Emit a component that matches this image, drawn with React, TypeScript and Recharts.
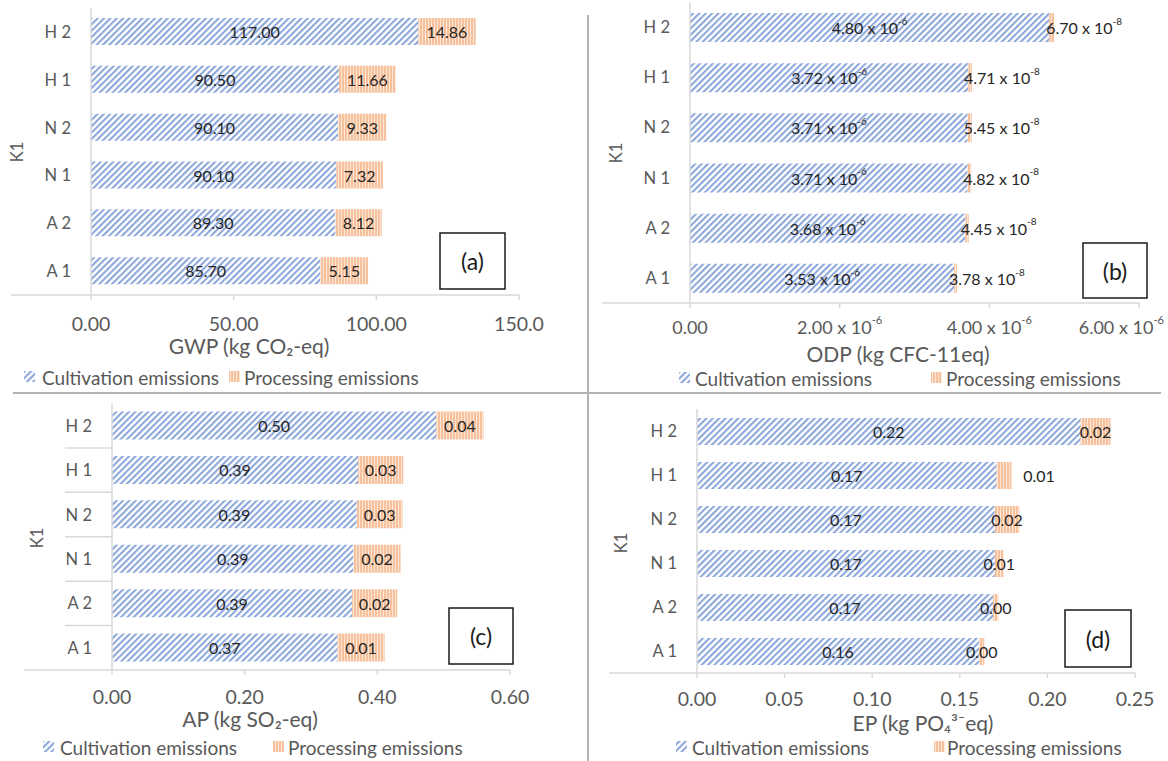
import React from 'react';
import { BarChart, Bar, XAxis, YAxis, LabelList } from 'recharts';

// ---------- data ----------
const categories = ['H 2', 'H 1', 'N 2', 'N 1', 'A 2', 'A 1'];

// (a) GWP
const gwpCultivation = [114.7, 86.9, 86.6, 86.0, 85.6, 80.4];
const gwpProcessing = [20.1, 19.9, 16.9, 16.3, 16.3, 16.7];
const gwpCultivationLabels = ['117.00', '90.50', '90.10', '90.10', '89.30', '85.70'];
const gwpProcessingLabels = ['14.86', '11.66', '9.33', '7.32', '8.12', '5.15'];
const gwpTicks = [0, 50, 100, 150];
const gwpTickLabels = ['0.00', '50.00', '100.00', '150.0'];

// (b) ODP
const odpCultivation = [4.8e-6, 3.72e-6, 3.71e-6, 3.71e-6, 3.68e-6, 3.53e-6];
const odpProcessing = [6.7e-8, 4.71e-8, 5.45e-8, 4.82e-8, 4.45e-8, 3.78e-8];
const odpTicks = [0, 2e-6, 4e-6, 6e-6];

// (c) AP
const apCultivation = [0.489, 0.371, 0.369, 0.364, 0.362, 0.34];
const apProcessing = [0.071, 0.068, 0.069, 0.071, 0.068, 0.071];
const apCultivationLabels = ['0.50', '0.39', '0.39', '0.39', '0.39', '0.37'];
const apProcessingLabels = ['0.04', '0.03', '0.03', '0.02', '0.02', '0.01'];
const apTicks = [0, 0.2, 0.4, 0.6];
const apTickLabels = ['0.00', '0.20', '0.40', '0.60'];

// (d) EP
const epCultivation = [0.219, 0.171, 0.17, 0.17, 0.169, 0.161];
const epProcessing = [0.017, 0.0085, 0.014, 0.005, 0.003, 0.003];
const epCultivationLabels = ['0.22', '0.17', '0.17', '0.17', '0.17', '0.16'];
const epProcessingLabels = ['0.02', '0.01', '0.02', '0.01', '0.00', '0.00'];
const epTicks = [0, 0.05, 0.1, 0.15, 0.2, 0.25];
const epTickLabels = ['0.00', '0.05', '0.10', '0.15', '0.20', '0.25'];

const seriesNames = ['Cultivation emissions', 'Processing emissions'];
const categoryAxisTitle = 'K1';

// ---------- styles ----------
const FONT = 'Lato, "Open Sans", "DejaVu Sans", sans-serif';
const GRAY = '#595959';
const DARK = '#262626';
const AXIS = '#d9d9d9';
const DIVIDER = '#b3b3b3';

type Row = { name: string; cult: number; proc: number };
const buildRows = (cult: number[], proc: number[]): Row[] =>
  categories.map((name, i) => ({ name, cult: cult[i], proc: proc[i] }));

type Geo = {
  left: number; top: number; w: number; h: number;
  plotL: number; plotR: number; plotT: number; plotB: number;
  axisExt: number; barSize: number; tickDy: number;
};

const geoA: Geo = { left: 0, top: 0, w: 584, h: 393, plotL: 91, plotR: 519, plotT: 8, plotB: 295, axisExt: 11, barSize: 27, tickDy: 28 };
const geoB: Geo = { left: 584, top: 0, w: 584, h: 393, plotL: 690, plotR: 1139, plotT: 2, plotB: 303, axisExt: 602, barSize: 29, tickDy: 24 };
const geoC: Geo = { left: 0, top: 393, w: 584, h: 368, plotL: 112, plotR: 510, plotT: 403.5, plotB: 670, axisExt: 24, barSize: 28, tickDy: 26 };
const geoD: Geo = { left: 584, top: 393, w: 584, h: 368, plotL: 697, plotR: 1135, plotT: 409, plotB: 673, axisExt: 609, barSize: 27, tickDy: 25 };

const sciParts = (v: number): [string, string | null] => {
  if (v === 0) return ['0.00', null];
  const e = Math.floor(Math.log10(v) + 1e-9);
  const m = v / Math.pow(10, e);
  return [m.toFixed(2) + ' x 10', String(e)];
};

const SciText = ({ x, y, v, anchor, size, fill }: { x: number; y: number; v: number; anchor: string; size: number; fill: string }) => {
  const [m, e] = sciParts(v);
  return (
    <text x={x} y={y} textAnchor={anchor as any} dominantBaseline="central" fontFamily={FONT} fontSize={size} fill={fill}>
      {m}
      {e !== null ? (
        <tspan dy={-size * 0.42} fontSize={size * 0.62}>{e}</tspan>
      ) : null}
    </text>
  );
};

const labelBox = (p: any) => {
  const vb = p.viewBox || {};
  const x = p.x ?? vb.x;
  const y = p.y ?? vb.y;
  const width = p.width ?? vb.width;
  const height = p.height ?? vb.height;
  return { x: Number(x), y: Number(y), width: Number(width), height: Number(height) };
};

type PanelProps = {
  geo: Geo;
  rows: Row[];
  domain: [number, number];
  ticks: number[];
  renderTick: (v: number, i: number, x: number, y: number) => React.ReactNode;
  renderCult: (i: number, cx: number, cy: number) => React.ReactNode;
  renderProc: (i: number, x: number, w: number, cy: number) => React.ReactNode;
  separators?: boolean;
};

function Panel({ geo: g, rows, domain, ticks, renderTick, renderCult, renderProc, separators }: PanelProps) {
  const margin = { top: g.plotT - g.top, right: g.left + g.w - g.plotR, left: 0, bottom: g.top + g.h - g.plotB - 30 };
  const band = (g.plotB - g.plotT) / categories.length;
  const tickY = g.plotB + g.tickDy - g.top;
  return (
    <div style={{ position: 'absolute', left: g.left, top: g.top }}>
      <BarChart width={g.w} height={g.h} data={rows} layout="vertical" margin={margin} barCategoryGap={0}>
        <XAxis
          type="number"
          domain={domain}
          ticks={ticks}
          height={30}
          interval={0}
          allowDataOverflow
          axisLine={{ stroke: AXIS, strokeWidth: 1.5 }}
          tickLine={{ stroke: AXIS, strokeWidth: 1.5 }}
          tickSize={5}
          tickMargin={0}
          tick={(p: any) => <g>{renderTick(p.payload.value, p.index, p.x, tickY)}</g>}
        />
        <YAxis
          type="category"
          dataKey="name"
          width={g.plotL - g.left}
          interval={0}
          axisLine={{ stroke: AXIS, strokeWidth: 1.5 }}
          tickLine={false}
          tickSize={0}
          tickMargin={0}
          tick={(p: any) => (
            <g>
              <text x={g.plotL - g.left - 20} y={p.y} textAnchor="end" dominantBaseline="central" fontFamily={FONT} fontSize={16.5} fill={GRAY}>
                {p.payload.value}
              </text>
              {separators && p.index < categories.length - 1 ? (
                <line x1={g.plotL - g.left - 47} x2={g.plotL - g.left} y1={p.y + band / 2} y2={p.y + band / 2} stroke={AXIS} strokeWidth={1.5} />
              ) : null}
            </g>
          )}
        />
        <Bar dataKey="cult" stackId="s" fill="url(#hatchBlue)" barSize={g.barSize} isAnimationActive={false}>
          <LabelList
            dataKey="cult"
            content={(p: any) => {
              const b = labelBox(p);
              return <g>{renderCult(p.index, b.x + b.width / 2, b.y + b.height / 2)}</g>;
            }}
          />
        </Bar>
        <Bar dataKey="proc" stackId="s" fill="url(#hatchOrange)" barSize={g.barSize} isAnimationActive={false}>
          <LabelList
            dataKey="proc"
            content={(p: any) => {
              const b = labelBox(p);
              return <g>{renderProc(p.index, b.x, b.width, b.y + b.height / 2)}</g>;
            }}
          />
        </Bar>
      </BarChart>
    </div>
  );
}

const TICK_FONT = 19.5;

const plainTick = (labels: string[]) => (v: number, i: number, x: number, y: number) => (
  <text x={x} y={y} textAnchor="middle" dominantBaseline="central" fontFamily={FONT} fontSize={TICK_FONT} fill={GRAY}>
    {labels[i]}
  </text>
);

const centerText = (txt: string, x: number, y: number) => (
  <text x={x} y={y} textAnchor="middle" dominantBaseline="central" fontFamily={FONT} fontSize={16} fill={DARK}>
    {txt}
  </text>
);

const epLabelShift = [0, 35, 0, 0, 0, 0];
const odpLastTickInset = 25;

function LegendRow({ y, x1, t1, x2, t2 }: { y: number; x1: number; t1: number; x2: number; t2: number }) {
  return (
    <g>
      <rect x={x1} y={y - 6} width={11} height={11} fill="url(#hatchBlue)" />
      <text x={t1} y={y} dominantBaseline="central" fontFamily={FONT} fontSize={19} fill={GRAY}>{seriesNames[0]}</text>
      <rect x={x2} y={y - 6} width={11} height={11} fill="url(#hatchOrange)" />
      <text x={t2} y={y} dominantBaseline="central" fontFamily={FONT} fontSize={19} fill={GRAY}>{seriesNames[1]}</text>
    </g>
  );
}

function PanelTag({ x, y, w, h, txt }: { x: number; y: number; w: number; h: number; txt: string }) {
  return (
    <g>
      <rect x={x} y={y} width={w} height={h} fill="#fff" stroke="#1a1a1a" strokeWidth={1.5} />
      <text x={x + w / 2} y={y + h / 2} textAnchor="middle" dominantBaseline="central" fontFamily={FONT} fontSize={23} fill="#1a1a1a">{txt}</text>
    </g>
  );
}

function AxisText({ x, y, txt, rotate }: { x: number; y: number; txt: string; rotate?: boolean }) {
  return (
    <text x={x} y={y} textAnchor="middle" dominantBaseline="central" fontFamily={FONT} fontSize={rotate ? 16.5 : 21} fill={GRAY}
      transform={rotate ? `rotate(-90 ${x} ${y})` : undefined}>
      {txt}
    </text>
  );
}

export default function App() {
  const geos = [geoA, geoB, geoC, geoD];
  return (
    <div style={{ position: 'absolute', left: 0, top: 0, width: 1168, height: 761, background: '#fff', overflow: 'hidden', fontFamily: FONT }}>
      <svg width={0} height={0} style={{ position: 'absolute' }}>
        <defs>
          <pattern id="hatchBlue" patternUnits="userSpaceOnUse" width={4.5} height={4.5} patternTransform="rotate(45)">
            <rect width={4.5} height={4.5} fill="#ffffff" />
            <line x1={1} y1={0} x2={1} y2={4.5} stroke="#8aa6da" strokeWidth={2.1} />
          </pattern>
          <pattern id="hatchOrange" patternUnits="userSpaceOnUse" width={3} height={3}>
            <rect width={3} height={3} fill="#fce6d6" />
            <line x1={1} y1={0} x2={1} y2={3} stroke="#f4b183" strokeWidth={1.4} />
          </pattern>
        </defs>
      </svg>

      <Panel
        geo={geoA}
        rows={buildRows(gwpCultivation, gwpProcessing)}
        domain={[0, 150]}
        ticks={gwpTicks}
        renderTick={plainTick(gwpTickLabels)}
        renderCult={(i, cx, cy) => centerText(gwpCultivationLabels[i], cx, cy)}
        renderProc={(i, x, w, cy) => centerText(gwpProcessingLabels[i], x + w / 2, cy)}
      />
      <Panel
        geo={geoB}
        rows={buildRows(odpCultivation, odpProcessing)}
        domain={[0, 6e-6]}
        ticks={odpTicks}
        renderTick={(v, i, x, y) =>
          i === odpTicks.length - 1 ? (
            <SciText x={x + odpLastTickInset} y={y} v={v} anchor="end" size={18} fill={GRAY} />
          ) : (
            <SciText x={x} y={y} v={v} anchor="middle" size={18} fill={GRAY} />
          )
        }
        renderCult={(i, cx, cy) => <SciText x={cx} y={cy} v={odpCultivation[i]} anchor="middle" size={16} fill={DARK} />}
        renderProc={(i, x, w, cy) => <SciText x={x + w - 8} y={cy} v={odpProcessing[i]} anchor="start" size={16} fill={DARK} />}
      />
      <Panel
        geo={geoC}
        rows={buildRows(apCultivation, apProcessing)}
        domain={[0, 0.6]}
        ticks={apTicks}
        separators
        renderTick={plainTick(apTickLabels)}
        renderCult={(i, cx, cy) => centerText(apCultivationLabels[i], cx, cy)}
        renderProc={(i, x, w, cy) => centerText(apProcessingLabels[i], x + w / 2, cy)}
      />
      <Panel
        geo={geoD}
        rows={buildRows(epCultivation, epProcessing)}
        domain={[0, 0.25]}
        ticks={epTicks}
        renderTick={plainTick(epTickLabels)}
        renderCult={(i, cx, cy) => centerText(epCultivationLabels[i], cx, cy)}
        renderProc={(i, x, w, cy) => centerText(epProcessingLabels[i], x + w / 2 + epLabelShift[i], cy)}
      />

      <svg width={1168} height={761} style={{ position: 'absolute', left: 0, top: 0, pointerEvents: 'none' }}>
        {/* panel dividers */}
        <line x1={588} y1={15} x2={588} y2={761} stroke={DIVIDER} strokeWidth={2} />
        <line x1={13} y1={393} x2={1161} y2={393} stroke={DIVIDER} strokeWidth={2} />
        {/* axis line extensions into the category label area */}
        {geos.map((g, k) => (
          <line key={k} x1={g.axisExt} y1={g.plotB} x2={g.plotL} y2={g.plotB} stroke={AXIS} strokeWidth={1.5} />
        ))}
        {/* category axis titles */}
        <AxisText x={17} y={152} txt={categoryAxisTitle} rotate />
        <AxisText x={616} y={153} txt={categoryAxisTitle} rotate />
        <AxisText x={37} y={538} txt={categoryAxisTitle} rotate />
        <AxisText x={621} y={543} txt={categoryAxisTitle} rotate />
        {/* value axis titles */}
        <AxisText x={249} y={345} txt="GWP (kg CO₂-eq)" />
        <AxisText x={898} y={353} txt="ODP (kg CFC-11eq)" />
        <AxisText x={250} y={718} txt="AP (kg SO₂-eq)" />
        <AxisText x={923} y={722} txt="EP (kg PO₄³⁻eq)" />
        {/* legends */}
        <LegendRow y={377} x1={24} t1={42} x2={229} t2={244} />
        <LegendRow y={378} x1={679} t1={695} x2={931} t2={946} />
        <LegendRow y={747} x1={43} t1={60} x2={273} t2={288} />
        <LegendRow y={747} x1={676} t1={692} x2={934} t2={947} />
        {/* panel tags */}
        <PanelTag x={440} y={233} w={65} h={56} txt="(a)" />
        <PanelTag x={1083} y={243} w={64} h={55} txt="(b)" />
        <PanelTag x={449} y={608} w={64} h={56} txt="(c)" />
        <PanelTag x={1065} y={610} w={66} h={57} txt="(d)" />
      </svg>
    </div>
  );
}
